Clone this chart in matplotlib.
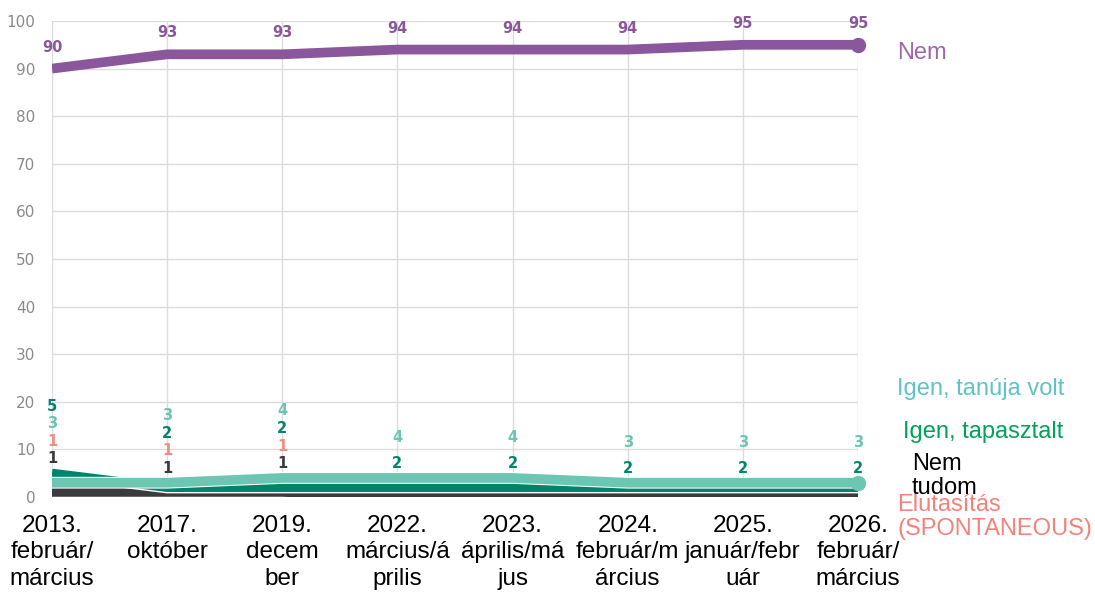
import matplotlib
matplotlib.use("Agg")
import matplotlib.pyplot as plt
import matplotlib.patheffects as pe

categories = ["2013.\nfebruár/\nmárcius", "2017.\noktóber", "2019.\ndecem\nber",
              "2022.\nmárcius/á\nprilis", "2023.\náprilis/má\njus",
              "2024.\nfebruár/m\nárcius", "2025.\njanuár/febr\nuár", "2026.\nfebruár/\nmárcius"]
nem = [90, 93, 93, 94, 94, 94, 95, 95]
tanuja = [3, 3, 4, 4, 4, 3, 3, 3]
tapasztalt = [5, 2, 2, 2, 2, 2, 2, 2]
elutasitas = [1, 1, 1, 0, 0, 0, 0, 0]
nem_tudom = [1, 1, 1, 0, 0, 0, 0, 0]

C_NEM = "#8b579c"
C_TAN = "#6cc6b1"
C_TAP = "#00856a"
C_ELU = "#f28b84"
C_NT = "#3b3a3d"

fig = plt.figure(figsize=(10.95, 5.99), dpi=100)
ax = fig.add_axes([52/1095, 1-497/599, (858-52)/1095, (497-21)/599])
x = list(range(len(categories)))

white = [pe.Stroke(linewidth=8.5, foreground="white"), pe.Normal()]
ax.plot(x, elutasitas, color=C_ELU, lw=6, zorder=2, solid_capstyle="butt")
ax.plot(x, nem_tudom, color=C_NT, lw=6.5, zorder=3, solid_capstyle="butt",
        path_effects=white)
ax.plot(x, tapasztalt, color=C_TAP, lw=6.5, zorder=4, solid_capstyle="butt",
        path_effects=white)
ax.plot(x, tanuja, color=C_TAN, lw=7, zorder=5, solid_capstyle="butt",
        path_effects=[pe.Stroke(linewidth=8.5, foreground="white"), pe.Normal()])
ax.plot(x[-1], tanuja[-1], "o", color=C_TAN, ms=10, zorder=6, clip_on=False)
ax.plot(x, nem, color=C_NEM, lw=7, zorder=5, solid_capstyle="butt")
ax.plot(x[-1], nem[-1], "o", color=C_NEM, ms=10, zorder=6, clip_on=False)

ax.set_xlim(0, 7)
ax.set_ylim(0, 100)
ax.set_yticks(range(0, 101, 10))
ax.set_xticks(x)
ax.set_xticklabels(categories, fontsize=17.5, family=["Liberation Sans", "DejaVu Sans"],
                   linespacing=1.25, color="black")
ax.tick_params(axis="x", length=0, pad=13)
ax.tick_params(axis="y", length=0, pad=12, labelsize=11, labelcolor="#8a8a8a")
ax.grid(True, color="#dcdcdc", lw=1)
for s in ax.spines.values():
    s.set_visible(False)

lab_font = dict(fontsize=10.5, fontweight="bold", ha="center", va="center",
                family=["DejaVu Sans"])
for i in x:
    ax.text(i, nem[i] + 4.5, str(nem[i]), color=C_NEM, clip_on=False, **lab_font)
    small = [(tanuja[i], C_TAN, 2), (tapasztalt[i], C_TAP, 3),
             (elutasitas[i], C_ELU, 1), (nem_tudom[i], C_NT, 0)]
    small = [s for s in small if s[0] > 0]
    small.sort(key=lambda s: (s[0], s[2]))
    base = max(s[0] for s in small) + 3
    step = 3.7 if len(small) > 2 else 5.5
    for k, (v, c, _) in enumerate(small):
        ax.text(i, base + k * step, str(v), color=c, **lab_font)

rf = dict(fontsize=17, family=["Liberation Sans", "DejaVu Sans"], va="center",
          ha="left", clip_on=False)
ax.text(7.34, 93.3, "Nem", color="#a066aa", **rf)
ax.text(7.34, 22.7, "Igen, tanúja volt", color="#5ec4c6", **rf)
ax.text(7.39, 13.7, "Igen, tapasztalt", color="#00a35a", **rf)
ax.text(7.47, 4.4, "Nem\ntudom", color="black", linespacing=1.1, **rf)
ax.text(7.34, -4.2, "Elutasítás\n(SPONTANEOUS)", color="#f4827a", linespacing=1.1, **rf)

fig.savefig("out.png", dpi=100)
